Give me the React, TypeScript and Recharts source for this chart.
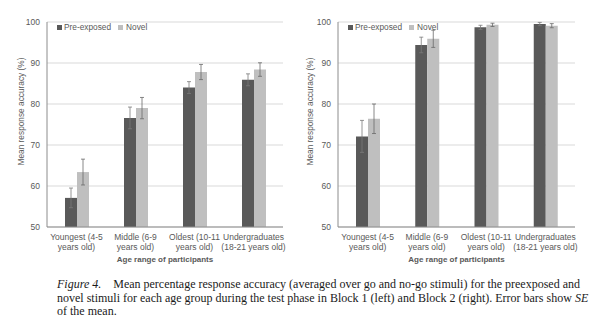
import { BarChart, Bar, XAxis, YAxis, CartesianGrid, ErrorBar, Legend } from 'recharts'

const groupLine1 = ['Youngest (4-5', 'Middle (6-9', 'Oldest (10-11', 'Undergraduates']
const groupLine2 = ['years old)', 'years old)', 'years old)', '(18-21 years old)']

// Block 1 (left)
const block1Pre = [57.1, 76.6, 84.0, 85.9]
const block1PreSE = [2.4, 2.65, 1.45, 1.45]
const block1Novel = [63.4, 79.0, 87.8, 88.4]
const block1NovelSE = [3.15, 2.6, 1.85, 1.65]

// Block 2 (right)
const block2Pre = [72.1, 94.4, 98.7, 99.5]
const block2PreSE = [3.9, 1.9, 0.5, 0.4]
const block2Novel = [76.4, 95.9, 99.3, 99.1]
const block2NovelSE = [3.6, 2.1, 0.4, 0.5]

const yTicks = [50, 60, 70, 80, 90, 100]

const DARK = '#595959'
const LIGHT = '#bfbfbf'
const TEXT = '#595959'
const FONT = '"Liberation Sans", Arial, sans-serif'

const makeRows = (pre: number[], preSE: number[], novel: number[], novelSE: number[]) =>
  groupLine1.map((g, i) => ({
    group: g,
    pre: pre[i],
    preSE: preSE[i],
    novel: novel[i],
    novelSE: novelSE[i]
  }))

const block1 = makeRows(block1Pre, block1PreSE, block1Novel, block1NovelSE)
const block2 = makeRows(block2Pre, block2PreSE, block2Novel, block2NovelSE)

const GroupTick = (props: any) => {
  const { x, y, payload } = props
  const i = groupLine1.indexOf(payload.value)
  return (
    <text x={x} y={y} textAnchor="middle" fill={TEXT} fontSize={8.5} fontFamily={FONT}>
      <tspan x={x} dy={11}>{payload.value}</tspan>
      <tspan x={x} dy={9.5}>{groupLine2[i]}</tspan>
    </text>
  )
}

const legendContent = () => (
  <div style={{ display: 'flex', alignItems: 'center', fontFamily: FONT, fontSize: 8.3, color: TEXT }}>
    <span style={{ width: 5, height: 5, background: DARK, marginRight: 2 }} />
    <span style={{ marginRight: 7 }}>Pre-exposed</span>
    <span style={{ width: 5, height: 5, background: LIGHT, marginRight: 3 }} />
    <span>Novel</span>
  </div>
)

interface PanelProps {
  data: typeof block1
  left: number
  width: number
  marginLeft: number
  marginRight: number
  titleShift: number
}

function Panel({ data, left, width, marginLeft, marginRight, titleShift }: PanelProps) {
  const yTitle = (p: any) => {
    const { x, y, height } = p.viewBox
    const cx = x + titleShift
    const cy = y + height / 2 - 13
    return (
      <text x={cx} y={cy} transform={`rotate(-90, ${cx}, ${cy})`} textAnchor="middle"
        dominantBaseline="central" fill={TEXT} fontSize={8.3} fontFamily={FONT}>
        Mean response accuracy (%)
      </text>
    )
  }
  const xTitle = (p: any) => {
    const { x, y, width: w } = p.viewBox
    return (
      <text x={x + w / 2} y={y + 35} textAnchor="middle" fill={TEXT} fontSize={8}
        fontWeight="bold" fontFamily={FONT}>
        Age range of participants
      </text>
    )
  }
  return (
    <div style={{ position: 'absolute', left, top: 0 }}>
      <BarChart width={width} height={268} data={data} barSize={12} barGap={0}
        margin={{ top: 22, right: marginRight, bottom: 0, left: marginLeft }}>
        <CartesianGrid vertical={false} stroke="#d9d9d9" />
        <XAxis dataKey="group" height={41} tick={<GroupTick />} tickLine={false} tickSize={0}
          stroke="#8c8c8c" interval={0} label={xTitle} />
        <YAxis domain={[50, 100]} ticks={yTicks} width={30} tickLine={false} tickSize={5}
          tickMargin={2} stroke="#8c8c8c" allowDataOverflow
          tick={{ fill: TEXT, fontSize: 8.5, fontFamily: FONT }} label={yTitle} />
        <Legend layout="horizontal" verticalAlign="middle" align="center" content={legendContent}
          wrapperStyle={{ top: 22, left: marginLeft + 40, width: 'auto' }} />
        <Bar dataKey="pre" name="Pre-exposed" fill={DARK} isAnimationActive={false}>
          <ErrorBar dataKey="preSE" width={2} stroke="#7a7a7a" strokeWidth={0.8} />
        </Bar>
        <Bar dataKey="novel" name="Novel" fill={LIGHT} isAnimationActive={false}>
          <ErrorBar dataKey="novelSE" width={2} stroke="#6a6a6a" strokeWidth={0.8} />
        </Bar>
      </BarChart>
    </div>
  )
}

const captionLine = {
  fontFamily: '"Liberation Serif", "Times New Roman", serif',
  fontSize: 12,
  lineHeight: '13.5px',
  color: '#1a1a1a',
  whiteSpace: 'nowrap' as const
}

export default function App() {
  return (
    <div style={{ position: 'absolute', left: 0, top: 0, width: 595, height: 324, background: '#fff' }}>
      <Panel data={block1} left={0} width={295} marginLeft={17} marginRight={12} titleShift={4} />
      <Panel data={block2} left={295} width={300} marginLeft={13} marginRight={20} titleShift={2} />
      <div style={{ position: 'absolute', left: 57, top: 278, width: 479 }}>
        <div style={{ ...captionLine, textAlign: 'justify', textAlignLast: 'justify' }}>
          <i>Figure 4.</i>&nbsp;&nbsp;&nbsp; Mean percentage response accuracy (averaged over go and no-go stimuli) for the preexposed and
        </div>
        <div style={{ ...captionLine, textAlign: 'justify', textAlignLast: 'justify' }}>
          novel stimuli for each age group during the test phase in Block 1 (left) and Block 2 (right). Error bars show <i>SE</i>
        </div>
        <div style={captionLine}>of the mean.</div>
      </div>
    </div>
  )
}
